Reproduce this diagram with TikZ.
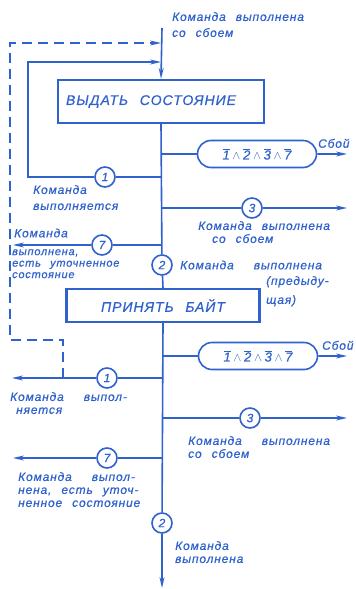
\documentclass[tikz,border=0pt]{standalone}
\usepackage{fontspec}
\setmainfont{Liberation Sans}
\newfontfamily\gost[LetterSpace=7,WordSpace=2.4,FakeBold=0.6]{Liberation Sans}
\usepackage{tikz}
\usetikzlibrary{arrows.meta,shapes.misc,positioning}
\definecolor{ink}{RGB}{48,98,205}
\tikzset{
  blok/.style={draw=ink,line width=2.3pt,minimum height=#1,inner sep=0pt,text=ink,font=\gost\itshape\fontsize{14}{15}\selectfont},
  sboi/.style={draw=ink,line width=1.6pt,rounded rectangle,minimum width=119pt,minimum height=27pt,inner sep=0pt,text=ink,font=\gost\itshape\fontsize{13}{13}\selectfont},
  num/.style={draw=ink,line width=1.6pt,circle,minimum size=20pt,inner sep=0pt,fill=white,text=ink,font=\gost\itshape\fontsize{12}{12}\selectfont},
  lbl/.style={text=ink,inner sep=0pt,align=left,font=\gost\itshape\fontsize{12}{#1}\selectfont},
  lbl/.default=13,
  lblm/.style={text=ink,inner sep=0pt,align=left,font=\gost\itshape\fontsize{11}{11.5}\selectfont},
  ln/.style={ink,line width=1.6pt},
  sf/.style={-{Stealth[length=11pt,width=5pt]}}
}
\newcommand{\negn}[1]{\overline{\mbox{#1}}}

\begin{document}
\begin{tikzpicture}[x=1pt,y=-1pt]
\useasboundingbox[fill=white] (0,0) rectangle (356,589);
% bloki
\node[blok=43pt,minimum width=206pt] (vydat) at (161,101.5) {\hspace*{-20pt}ВЫДАТЬ СОСТОЯНИЕ};
\node[blok=33pt,minimum width=193pt] (prinyat) at (163,305.5) {ПРИНЯТЬ БАЙТ};
\node[sboi] (sboi1) at (257,154) {$\negn{1}\wedge\negn{2}\wedge\negn{3}\wedge\negn{7}$};
\node[sboi] (sboi2) at (258,356) {$\negn{1}\wedge\negn{2}\wedge\negn{3}\wedge\negn{7}$};
\foreach \n/\t/\x/\y in {c1a/1/105/177,c3a/3/252/208,c7a/7/102/245,c2a/2/162/265,
                         c1b/1/107/378,c3b/3/250/418,c7b/7/107/458,c2b/2/162/523}
  \node[num] (\n) at (\x,\y) {\t};
% tochki
\coordinate (vhod) at (162,28);
\coordinate (niz) at (162,588);
\coordinate (j1) at (162,154);  \coordinate (e1) at (347,154);
\coordinate (j1a) at (162,177); \coordinate (k1) at (28,177); \coordinate (k2) at (28,62); \coordinate (k3) at (161,62);
\coordinate (j3a) at (162,208); \coordinate (e3a) at (347,208);
\coordinate (j7a) at (162,245); \coordinate (e7a) at (13,245);
\coordinate (j2) at (162,356);  \coordinate (e2) at (347,356);
\coordinate (j1b) at (162,378); \coordinate (e1b) at (12,378);
\coordinate (j3b) at (162,418); \coordinate (e3b) at (347,418);
\coordinate (j7b) at (162,458); \coordinate (e7b) at (13,458);
\coordinate (d0) at (63,378); \coordinate (d1) at (63,340); \coordinate (d2) at (10,340);
\coordinate (d3) at (10,43); \coordinate (d4) at (161,43);
% liniya
\draw[ln,sf] (vhod) -- (vydat.north);
\draw[ln] (vydat.south) -- (c2a) -- (prinyat.north);
\draw[ln,sf] (prinyat.south) -- (c2b) -- (niz);
\draw[ln] (j1) -- (sboi1); \draw[ln,sf] (sboi1) -- (e1);
\draw[ln] (j2) -- (sboi2); \draw[ln,sf] (sboi2) -- (e2);
\draw[ln,sf] (j1a) -- (c1a) -- (k1) -- (k2) -- (k3);
\draw[ln,sf] (j3a) -- (c3a) -- (e3a);
\draw[ln,sf] (j7a) -- (c7a) -- (e7a);
\draw[ln,sf] (j1b) -- (c1b) -- (e1b);
\draw[ln,sf] (j3b) -- (c3b) -- (e3b);
\draw[ln,sf] (j7b) -- (c7b) -- (e7b);
\draw[ln,sf,dash pattern=on 10pt off 6pt] (d0) -- (d1) -- (d2) -- (d3) -- (d4);
% nadpisi
\node[lbl=16,anchor=north west] (t0) at (172,12) {Команда выполнена\\со сбоем};
\node[lbl,anchor=south west] (t1) at (318,148) {Сбой};
\node[lbl,anchor=south west] (t2) at (322,350) {Сбой};
\node[lbl=16,anchor=north west] (t1a) at (33,185) {Команда\\выполняется};
\node[lbl,anchor=north west] (t3a) at (198,221) {Команда выполнена\\\hspace*{14pt}со сбоем};
\node[lbl,anchor=west] (t7a) at (14,233) {Команда};
\node[lblm,anchor=north west] (t7a2) at (12,249) {выполнена,\\есть уточненное\\состояние};
\node[lbl,anchor=west] (t2a) at (180,265) {Команда \ выполнена};
\node[lbl=19,anchor=north west] (t2a2) at (266,276) {(предыду-\\щая)};
\node[lbl,anchor=north west] (t1b) at (10,392) {Команда \ выпол-\\\hspace*{6pt}няется};
\node[lbl,anchor=north west] (t3b) at (188,436) {Команда \ выполнена\\со сбоем};
\node[lbl,anchor=north west] (t7b) at (18,472) {Команда \ выпол-\\нена, есть уточ-\\ненное состояние};
\node[lbl=13,anchor=north west] (t2b) at (175,541) {Команда\\выполнена};
\end{tikzpicture}
\end{document}
